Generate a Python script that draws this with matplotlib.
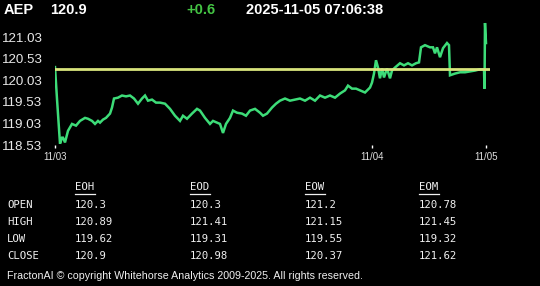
import matplotlib
matplotlib.use("Agg")
import matplotlib.pyplot as plt
from matplotlib.lines import Line2D

# price trace (sample index, price)
idx = [0, 2, 5, 7, 8, 10, 13, 17, 21, 25, 30, 33, 37, 40, 43, 45, 48, 51, 55, 57,
       59, 63, 67, 71, 75, 79, 83, 87, 90, 93, 97, 101, 105, 110, 115, 120, 125, 128,
       132, 137, 142, 145, 150, 155, 158, 162, 165, 168, 171, 175, 178, 182, 187, 191,
       195, 200, 205, 208, 212, 217, 221, 225, 230, 235, 240, 245, 250, 255, 260, 265,
       270, 275, 280, 285, 290, 293, 297, 301, 305, 310, 315, 317, 319, 321, 323, 325,
       327, 329, 332, 335, 337, 340, 345, 349, 353, 357, 361, 364, 366, 370, 375, 378,
       380, 382, 385, 388, 392, 394, 395, 400, 405, 410, 415, 420, 425, 429, 429.5,
       430, 431]
price = [120.34, 119.6, 118.56, 118.7, 118.7, 118.59, 118.86, 119.02, 118.98, 119.09,
         119.16, 119.14, 119.09, 119.02, 119.09, 119.05, 119.12, 119.16, 119.26, 119.40,
         119.61, 119.63, 119.68, 119.66, 119.68, 119.61, 119.49, 119.61, 119.68, 119.56,
         119.585, 119.515, 119.515, 119.49, 119.37, 119.21, 119.09, 119.21, 119.14,
         119.26, 119.37, 119.33, 119.16, 119.02, 119.09, 119.05, 119.02, 118.81, 119.02,
         119.16, 119.33, 119.28, 119.26, 119.21, 119.33, 119.37, 119.28, 119.21, 119.26,
         119.40, 119.49, 119.56, 119.61, 119.56, 119.585, 119.61, 119.56, 119.63, 119.56,
         119.68, 119.63, 119.68, 119.63, 119.725, 119.80, 119.91, 119.84, 119.84, 119.80,
         119.75, 119.865, 119.98, 120.19, 120.50, 120.33, 120.08, 120.31, 120.10, 120.31,
         120.08, 120.26, 120.33, 120.43, 120.38, 120.43, 120.38, 120.43, 120.45, 120.80,
         120.85, 120.80, 120.80, 120.66, 120.80, 120.57, 120.78, 120.90, 120.85, 120.15,
         120.19, 120.22, 120.22, 120.24, 120.26, 120.29, 120.29, 119.84, 121.365, 120.90]
ref_level = 120.3

x_ticks = [0, 317, 431]
x_labels = ["11/03", "11/04", "11/05"]
y_ticks = [118.53, 119.03, 119.53, 120.03, 120.53, 121.03]

cols = ["EOH", "EOD", "EOW", "EOM"]
rows = ["OPEN", "HIGH", "LOW", "CLOSE"]
table = [["120.3", "120.3", "121.2", "120.78"],
         ["120.89", "121.41", "121.15", "121.45"],
         ["119.62", "119.31", "119.55", "119.32"],
         ["120.9", "120.98", "120.37", "121.62"]]

W, H = 540, 286
fig = plt.figure(figsize=(W / 100, H / 100), dpi=100, facecolor="black")


def fx(x):
    return x / W


def fy(y):
    return 1 - y / H


ax = fig.add_axes([fx(55), fy(145), fx(490) - fx(55), fy(20) - fy(145)])
ax.set_facecolor("black")
ax.plot(idx, price, color="#3ddc78", lw=1.8, solid_joinstyle="miter")
ax.axhline(ref_level, color="#d8e47c", lw=2.0)
ax.set_xlim(0, 435)
ax.set_ylim(118.53, 121.435)
for s in ax.spines.values():
    s.set_visible(False)
ax.set_yticks(y_ticks)
ax.set_yticklabels([f"{v:.2f}" for v in y_ticks])
ax.set_xticks(x_ticks)
ax.set_xticklabels(x_labels)
ax.tick_params(axis="y", length=0, pad=9, labelsize=9.6, labelcolor="#e8e8e8")
ax.tick_params(axis="x", length=2, width=1, color="white", pad=3,
               labelsize=7, labelcolor="#e0e0e0")
for t in ax.get_yticklabels() + ax.get_xticklabels():
    t.set_fontfamily("Liberation Sans")

# header
hdr = dict(fontfamily="Liberation Sans", fontweight="bold", fontsize=10.5,
           va="center", ha="left")
fig.text(fx(4), fy(10), "AEP", color="white", **hdr)
fig.text(fx(50), fy(10), "120.9", color="white", **hdr)
fig.text(fx(186), fy(10), "+0.6", color="#44c444", **hdr)
fig.text(fx(246), fy(10), "2025-11-05 07:06:38", color="white", **hdr)

# stats table
mono = dict(fontfamily="DejaVu Sans Mono", fontsize=7.7, color="#f0f0f0",
            va="center", ha="left")
col_x = [75, 190, 305, 419]
for cx, name in zip(col_x, cols):
    fig.text(fx(cx), fy(187), name, **mono)
    fig.add_artist(Line2D([fx(cx), fx(cx + 20)], [fy(194), fy(194)],
                          color="#f0f0f0", lw=0.9))
row_y = [205, 222, 239, 256]
for ry, name, vals in zip(row_y, rows, table):
    fig.text(fx(7), fy(ry), name, **mono)
    for cx, v in zip(col_x, vals):
        fig.text(fx(cx), fy(ry), v, **mono)

fig.text(fx(7), fy(276), "FractonAI \u00a9 copyright Whitehorse Analytics 2009-2025. All rights reserved.",
         fontfamily="Liberation Sans", fontsize=7.7, color="#f0f0f0", va="center", ha="left")

fig.savefig("out.png", dpi=100, facecolor="black")
